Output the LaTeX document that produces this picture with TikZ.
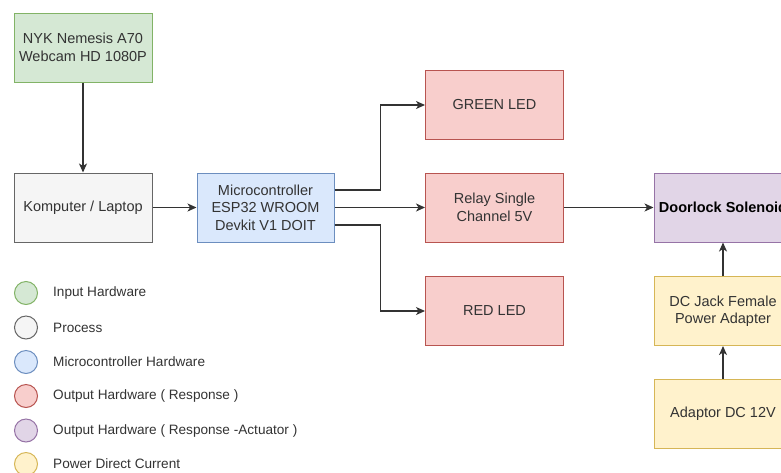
\documentclass[tikz,border=0pt]{standalone}
\usepackage{fontspec}
\setmainfont{Liberation Sans}
\usetikzlibrary{arrows.meta}
\definecolor{grnF}{HTML}{D5E8D4}\definecolor{grnD}{HTML}{82B366}
\definecolor{gryF}{HTML}{F5F5F5}\definecolor{gryD}{HTML}{666666}
\definecolor{bluF}{HTML}{DAE8FC}\definecolor{bluD}{HTML}{6C8EBF}
\definecolor{redF}{HTML}{F8CECC}\definecolor{redD}{HTML}{B85450}
\definecolor{purF}{HTML}{E1D5E7}\definecolor{purD}{HTML}{9673A6}
\definecolor{yelF}{HTML}{FFF2CC}\definecolor{yelD}{HTML}{D6B656}
\definecolor{ink}{HTML}{333333}
\tikzset{
  blk/.style={draw, line width=1pt, minimum width=138pt, minimum height=69pt,
    align=center, text=ink, font=\fontsize{14.5}{17.5}\selectfont, inner sep=2pt},
  inhw/.style={blk, fill=grnF, draw=grnD},
  proc/.style={blk, fill=gryF, draw=gryD},
  mcu/.style={blk, fill=bluF, draw=bluD, minimum width=137pt},
  outhw/.style={blk, fill=redF, draw=redD},
  act/.style={blk, fill=purF, draw=purD},
  pwr/.style={blk, fill=yelF, draw=yelD},
  link/.style={draw=ink, line width=1.3pt,
    -{Stealth[length=9pt,width=8pt,inset=2.5pt]}},
  dot/.style={circle, draw, line width=1pt, minimum size=23pt, inner sep=0pt},
  key/.style={anchor=west, text=ink, font=\fontsize{13.6}{16}\selectfont, inner sep=0pt}
}
\begin{document}
\begin{tikzpicture}[x=1pt,y=-1pt]
\useasboundingbox (0,0) rectangle (781,472);
\clip (0,0) rectangle (781,472);

% hardware blocks
\node[inhw]  (cam)   at (83,47.5)    {NYK Nemesis A70\\Webcam HD 1080P};
\node[proc]  (pc)    at (83,207.5)   {Komputer / Laptop};
\node[mcu]   (esp)   at (265.5,207.5){Microcontroller\\ESP32 WROOM\\Devkit V1 DOIT};
\node[outhw] (gled)  at (494.5,105)  {GREEN LED};
\node[outhw] (relay) at (494.5,207.5){Relay Single\\Channel 5V};
\node[outhw] (rled)  at (494.5,311)  {RED LED};
\node[act, font=\fontsize{14.5}{17.5}\selectfont\bfseries, text=black]
             (lock)  at (723,207.5)  {Doorlock Solenoid};
\node[pwr]   (jack)  at (723,311)    {DC Jack Female\\Power Adapter};
\node[pwr]   (adp)   at (723,413.5)  {Adaptor DC 12V};

% signal flow
\draw[link] (cam.south) -- (pc.north);
\draw[link] (pc.east) -- (esp.west);
\draw[link] ([yshift=17.5pt]esp.east) -- ++(46,0) |- (gled.west);
\draw[link] (esp.east) -- (relay.west);
\draw[link] ([yshift=-17.5pt]esp.east) -- ++(46,0) |- (rled.west);
\draw[link] (relay.east) -- (lock.west);
\draw[link] (jack.north) -- (lock.south);
\draw[link] (adp.north) -- (jack.south);

% legend
\node[dot, fill=grnF, draw=grnD] (k1) at (26,293) {};
\node[dot, fill=gryF, draw=gryD] (k2) at (26,327.5) {};
\node[dot, fill=bluF, draw=bluD] (k3) at (26,362) {};
\node[dot, fill=redF, draw=redD] (k4) at (26,396) {};
\node[dot, fill=purF, draw=purD] (k5) at (26,430.5) {};
\node[dot, fill=yelF, draw=yelD] (k6) at (26,464) {};
\node[key] at (53,293)   {Input Hardware};
\node[key] at (53,327.5) {Process};
\node[key] at (53,362)   {Microcontroller Hardware};
\node[key] at (53,396)   {Output Hardware ( Response )};
\node[key] at (53,430.5) {Output Hardware ( Response -Actuator )};
\node[key] at (53,464)   {Power Direct Current};
\end{tikzpicture}
\end{document}
